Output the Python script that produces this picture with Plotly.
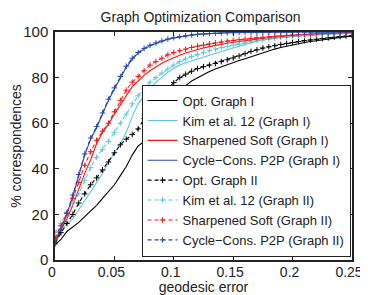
import plotly.graph_objects as go

x = [round(i * 0.005, 3) for i in range(51)]

opt_graph_1 = [6.6, 9, 12.5, 14.5, 16.5, 19, 21.5, 24, 27, 30, 33, 37, 41, 46, 50, 52, 56, 60.5, 64.3, 68,
               71.5, 74, 76.5, 78.5, 80, 81.5, 82.7, 83.8, 84.8, 85.8, 86.7, 87.5, 88.3, 89.2, 90, 91, 91.8,
               92.5, 93.2, 93.8, 94.4, 94.9, 95.4, 95.8, 96.2, 96.6, 97, 97.3, 97.6, 97.9, 98.2]
kim_graph_1 = [11.8, 13.5, 15.5, 18, 22, 26, 30, 34, 38, 43, 47, 51, 56, 63, 68.5, 72, 75.5, 78, 80.3, 82.3,
               84, 85.5, 86.5, 87.4, 88.3, 89.1, 89.8, 90.6, 91.5, 92.3, 93, 93.8, 94.6, 95.4, 96, 96.5, 96.9,
               97.2, 97.5, 97.7, 98, 98.2, 98.4, 98.6, 98.8, 98.9, 99.1, 99.2, 99.3, 99.4, 99.5]
sharp_graph_1 = [8.8, 13.5, 18, 24, 31, 38, 44, 51, 56, 59.5, 64, 68, 72.5, 76, 78.5, 81, 83, 84.8, 86.3, 87.6,
                 88.8, 89.8, 90.8, 91.6, 92.4, 93, 93.6, 94.2, 94.7, 95.1, 95.5, 95.9, 96.3, 96.6, 96.9, 97.2,
                 97.5, 97.8, 98, 98.3, 98.5, 98.7, 98.9, 99, 99.1, 99.2, 99.3, 99.4, 99.5, 99.6, 99.7]
cycle_graph_1 = [6.6, 13, 20, 28, 37, 46, 53, 58, 64, 70, 75, 80, 84.5, 88, 90.8, 92.5, 94, 95, 96, 96.8,
                 97.4, 97.9, 98.3, 98.6, 98.9, 99.1, 99.3, 99.45, 99.55, 99.65, 99.72, 99.78, 99.82, 99.86,
                 99.89, 99.91, 99.93, 99.95, 99.96, 99.97, 99.98, 99.98, 99.99, 99.99, 99.99, 100, 100, 100,
                 100, 100, 100]
opt_graph_2 = [7.5, 12, 16, 20, 25, 29, 33, 36, 39.5, 43, 47, 50.5, 53, 55, 57.5, 62, 65.5, 69, 72, 75,
               77.8, 80, 81.5, 82.8, 84, 84.8, 85.5, 86.2, 87, 87.8, 88.6, 89.5, 90.5, 91.5, 92.2, 93, 93.5,
               94, 94.5, 95, 95.4, 95.8, 96.2, 96.5, 96.8, 97.1, 97.4, 97.7, 98, 98.2, 98.5]
kim_graph_2 = [12, 16, 21, 25, 29, 35, 40.5, 45, 48.5, 52, 56, 60, 64, 68.5, 72, 75, 78, 80, 82, 83.8,
               85.5, 87, 88.2, 89.3, 90.2, 91, 91.8, 92.5, 93.1, 93.7, 94.3, 94.8, 95.3, 95.8, 96.2, 96.6, 97,
               97.3, 97.6, 97.8, 98, 98.2, 98.4, 98.6, 98.8, 98.9, 99.1, 99.2, 99.3, 99.4, 99.5]
sharp_graph_2 = [9.5, 15, 20.5, 27, 34, 41.5, 47.5, 52.5, 56.5, 60, 65, 70, 74.5, 78, 80.5, 83, 85.5, 87, 88.5,
                 90, 91, 91.8, 92.5, 93.2, 93.8, 94.3, 94.8, 95.2, 95.6, 96, 96.3, 96.6, 96.9, 97.2, 97.5,
                 97.7, 97.9, 98.1, 98.3, 98.5, 98.7, 98.85, 99, 99.1, 99.2, 99.3, 99.4, 99.5, 99.6, 99.65, 99.7]
cycle_graph_2 = [7, 13.5, 20.5, 28.5, 37.5, 46.5, 53.5, 58.5, 64.5, 70.5, 75.5, 80.5, 85, 88.5, 91, 92.8, 94.2,
                 95.2, 96.1, 96.9, 97.5, 98, 98.4, 98.7, 99, 99.2, 99.35, 99.5, 99.6, 99.7, 99.75, 99.8, 99.84,
                 99.87, 99.9, 99.92, 99.94, 99.95, 99.96, 99.97, 99.98, 99.99, 99.99, 100, 100, 100, 100, 100,
                 100, 100, 100]

names = ["Opt. Graph I", "Kim et al. 12 (Graph I)", "Sharpened Soft (Graph I)", "Cycle\u2212Cons. P2P (Graph I)",
         "Opt. Graph II", "Kim et al. 12 (Graph II)", "Sharpened Soft (Graph II)", "Cycle\u2212Cons. P2P (Graph II)"]
series = [opt_graph_1, kim_graph_1, sharp_graph_1, cycle_graph_1,
          opt_graph_2, kim_graph_2, sharp_graph_2, cycle_graph_2]
colors = ["#000000", "#5cc8dc", "#f01818", "#2848b0"] * 2

x_ticks = [0, 0.05, 0.1, 0.15, 0.2, 0.25]
x_tick_labels = ["0", "0.05", "0.1", "0.15", "0.2", "0.25"]
y_ticks = [0, 20, 40, 60, 80, 100]

fig = go.Figure()
for i, (name, ys) in enumerate(zip(names, series)):
    dashed = i >= 4
    fig.add_trace(go.Scatter(
        x=x, y=ys, name=name,
        mode="lines+markers" if dashed else "lines",
        line=dict(color=colors[i], width=1.1, dash="4px,3px" if dashed else "solid"),
        marker=dict(symbol="cross-thin", size=4, line=dict(color=colors[i], width=1)) if dashed else None,
    ))

axis_common = dict(showline=True, linecolor="#222", linewidth=1.5, mirror="ticks", ticks="inside",
                   ticklen=4, tickcolor="#222", showgrid=False, zeroline=False, automargin=False,
                   ticklabeloverflow="allow")
# The page body adds an 8px offset, so the figure is 8px smaller than the window.
fig.update_layout(
    width=360, height=287,
    margin=dict(l=47, r=16, t=24, b=35),
    paper_bgcolor="white", plot_bgcolor="white",
    font=dict(family="Liberation Sans, Arial, sans-serif", color="#222"),
    title=dict(text="Graph Optimization Comparison", x=0.535, xanchor="center", y=0.985, yanchor="top",
               font=dict(size=14)),
    xaxis=dict(range=[0, 0.25], tickvals=x_ticks, ticktext=x_tick_labels, ticklabelstandoff=-2,
               ticklabelshift=-3, tickfont=dict(size=14, color="#222"),
               title=dict(text="geodesic error", font=dict(size=14), standoff=0), **axis_common),
    yaxis=dict(range=[0, 100], tickvals=y_ticks, tickfont=dict(size=15, color="#222"),
               ticklabelstandoff=2,
               title=dict(text="% correspondences", font=dict(size=14), standoff=2), **axis_common),
    legend=dict(x=0.995, xanchor="right", y=0.015, yanchor="bottom", bgcolor="white",
                bordercolor="#222", borderwidth=1, font=dict(size=13), itemwidth=30,
                tracegroupgap=0),
    showlegend=True,
)
fig.write_html("out.html")
